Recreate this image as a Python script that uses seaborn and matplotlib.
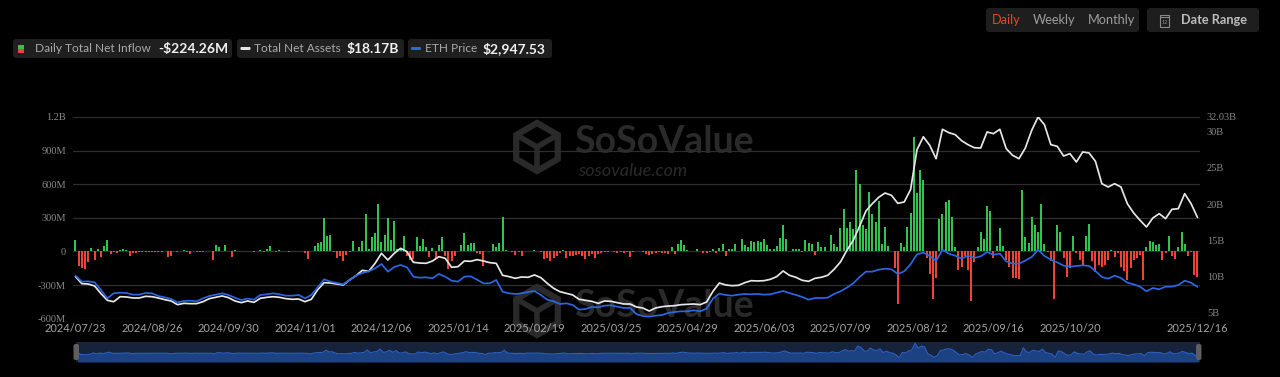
import numpy as np
import pandas as pd
import matplotlib
matplotlib.use("Agg")
import matplotlib.pyplot as plt
import seaborn as sns
from matplotlib.patches import FancyBboxPatch, RegularPolygon, Rectangle

# ---------------- data ----------------
start_date = "2024-07-23"
end_date = "2025-12-16"
market_holidays = ["2024-09-02", "2024-11-28", "2024-12-25", "2025-01-01", "2025-01-09",
                   "2025-01-20", "2025-02-17", "2025-04-18", "2025-05-26", "2025-06-19",
                   "2025-07-04", "2025-09-01", "2025-11-27"]

# daily total net inflow, million USD (one value per trading day)
daily_net_inflow_musd = [
    104, -133, -148, -157, -98, 30, -74, 24, -53, 47,
    98, -21, -2, -15, 9, 21, 11, -38, -15, -12,
    -6, -1, -1, -1, -3, -6, -1, -1, 5, -48,
    -37, 1, -6, 0, 11, -1, -20, 5, -9, -5,
    -5, 3, 0, -79, 62, 38, 0, 56, 1, -48,
    14, 8, 0, 0, 2, 0, -9, 0, 11, -5,
    24, 48, 0, -9, 11, 0, 2, -9, 2, 8,
    4, 7, -11, -63, 1, 52, 80, 86, 295, 136,
    147, -3, -60, -39, -81, -30, -9, 91, 3, 40,
    90, 332, 24, 133, 168, 428, 84, 145, 299, 98,
    272, 24, 30, 139, -38, -74, -68, 127, 50, 115,
    44, -53, 33, -65, 56, 127, -44, -157, -89, -44,
    0, 59, 163, 59, 80, 74, -15, -21, -133, 0,
    2, 65, 44, 80, 305, 15, 0, -5, -30, -5,
    -38, 0, 3, 5, 15, 0, -5, -68, -59, -89,
    -59, -36, -15, 15, -59, -44, -38, -33, -21, -38,
    -68, -38, -24, -59, -21, -15, -3, -6, 0, -9,
    -15, -3, -15, -3, -53, -5, 3, 2, -5, -24,
    -30, -24, -12, -9, -12, -12, -24, 38, -24, 65,
    104, 59, 15, 3, 0, 21, 0, -12, -12, -9,
    18, -12, 30, 65, -36, 21, 24, 65, 0, 110,
    59, 41, 89, 83, 89, 83, 107, 59, 21, 24,
    47, 124, 237, 112, 3, 21, 18, 18, -9, 101,
    77, 65, -30, 83, 36, 38, 5, 148, 65, 44,
    213, 379, 207, 260, 198, 726, 602, 237, 201, 533,
    334, 266, 453, 65, 222, 53, 5, -152, -465, 74,
    36, 222, 340, 1020, 523, 729, 640, -59, -197, -422,
    -240, 287, 337, 443, 455, 307, 39, -164, -135, -38,
    -167, -446, -96, 44, 171, 113, 405, 363, -61, 47,
    213, 47, -76, -140, -237, -237, -248, 547, 127, 80,
    307, 233, 176, 421, 69, -8, -89, -428, 236, 170,
    -56, -232, -145, 141, -18, -80, -118, 134, 246, -81,
    -184, -118, -136, -118, -74, 12, -46, -10, -142, -178,
    -252, -148, -74, -59, -30, -252, 44, 95, 83, 59,
    71, -74, -15, 139, -36, -68, 36, 178, 65, -36,
    -5, -213, -224.26,
]

line_step = 2  # the two lines are read every 2nd trading day
# total net assets, billion USD
net_assets_busd = [
    9.98, 9.01, 8.96, 8.69, 7.63, 6.71, 6.52, 7.21, 7.17, 7.03,
    7.03, 7.26, 7.21, 7.03, 6.80, 6.62, 6.11, 6.29, 6.25, 6.25,
    6.52, 6.94, 7.12, 7.31, 7.08, 6.62, 6.39, 6.62, 6.43, 6.99,
    7.12, 7.21, 7.12, 6.94, 6.85, 6.89, 6.52, 6.85, 8.18, 9.15,
    9.10, 8.96, 8.83, 9.52, 10.12, 10.85, 10.71, 11.82, 13.20, 12.28,
    13.20, 13.89, 13.43, 11.96, 11.86, 11.82, 12.14, 12.74, 12.51, 11.27,
    11.36, 12.14, 12.10, 12.33, 12.14, 11.91, 11.82, 10.16, 9.98, 9.75,
    9.93, 9.89, 10.21, 9.84, 9.06, 8.37, 7.90, 7.67, 7.45, 6.85,
    6.71, 6.57, 6.29, 6.62, 6.57, 6.39, 6.20, 6.20, 5.79, 5.65,
    5.23, 5.65, 5.83, 5.92, 5.97, 6.11, 6.16, 6.20, 6.11, 6.48,
    7.95, 9.10, 8.83, 8.73, 8.78, 9.15, 9.42, 9.38, 9.42, 9.61,
    9.98, 10.76, 10.16, 9.89, 9.47, 9.33, 9.75, 9.89, 10.16, 10.99,
    12.00, 13.61, 14.99, 16.93, 19.05, 20.06, 20.94, 21.53, 21.21, 20.10,
    20.29, 22.0, 27.5, 29.3, 28.12, 26.27, 30.33, 29.87, 29.59, 28.76,
    28.21, 27.79, 27.75, 29.96, 29.73, 30.33, 27.66, 26.74, 26.27, 27.75,
    30.19, 32.03, 30.97, 28.21, 27.98, 26.64, 26.97, 25.81, 27.20, 27.06,
    25.91, 22.82, 22.36, 22.82, 22.36, 20.06, 18.77, 17.76, 16.84, 18.08,
    18.68, 17.99, 19.28, 19.37, 21.44, 20.06, 18.17,
]
# ETH price, USD
eth_price_usd = [
    3483, 3197, 3213, 3165, 2800, 2403, 2641, 2673, 2657, 2578,
    2578, 2657, 2641, 2514, 2451, 2371, 2213, 2276, 2292, 2260,
    2403, 2514, 2578, 2641, 2562, 2435, 2324, 2387, 2340, 2562,
    2594, 2641, 2594, 2530, 2530, 2562, 2403, 2562, 2927, 3308,
    3197, 3133, 3070, 3276, 3483, 3609, 3689, 3832, 4038, 3673,
    3895, 3990, 3879, 3435, 3387, 3403, 3356, 3562, 3435, 3245,
    3197, 3435, 3451, 3292, 3117, 3117, 3276, 2721, 2641, 2610,
    2641, 2705, 2752, 2562, 2340, 2260, 2133, 2165, 2086, 1864,
    1895, 1990, 1974, 2054, 2070, 2006, 1943, 1943, 1650, 1560,
    1530, 1578, 1609, 1705, 1752, 1784, 1784, 1832, 1784, 1911,
    2387, 2625, 2562, 2530, 2578, 2610, 2594, 2610, 2578, 2594,
    2673, 2752, 2657, 2562, 2467, 2340, 2419, 2419, 2435, 2610,
    2736, 2911, 3117, 3419, 3673, 3673, 3768, 3816, 3784, 3562,
    3689, 4022, 4498, 4578, 4419, 4181, 4721, 4530, 4435, 4292,
    4435, 4324, 4403, 4609, 4482, 4530, 4165, 4054, 4054, 4197,
    4371, 4721, 4419, 4244, 4117, 3959, 3911, 3943, 3975, 3943,
    3705, 3419, 3340, 3483, 3371, 3149, 3070, 2959, 2736, 2895,
    2832, 2959, 2959, 3038, 3244, 3149, 2947.53,
]

legend_labels = ["Daily Total Net Inflow", "Total Net Assets", "ETH Price"]
legend_values = ["-$224.26M", "$18.17B", "$2,947.53"]
left_ticks = [-600, -300, 0, 300, 600, 900, 1200]
left_tick_labels = ["-600M", "-300M", "0", "300M", "600M", "900M", "1.2B"]
right_ticks = [5, 10, 15, 20, 25, 30, 32.03]
right_tick_labels = ["5B", "10B", "15B", "20B", "25B", "30B", "32.03B"]
period_buttons = ["Daily", "Weekly", "Monthly"]
date_range_label = "Date Range"
watermark_name = "SoSoValue"
watermark_site = "sosovalue.com"

# ---------------- style ----------------
BG = "#000000"
GRID = "#2e2e2e"
TICK = "#8a8a8a"
XTICK = "#a3a3a3"
GREEN = "#33c14f"
RED = "#ee4437"
WHITE = "#e6e6e6"
BLUE = "#2b67e3"
CHIP = "#1f1f1f"
WM = "#2a2a2a"

sns.set_theme(style="dark", rc={"axes.facecolor": "none", "figure.facecolor": BG,
                                "axes.edgecolor": BG, "grid.color": GRID})
plt.rcParams["font.family"] = ["Lato", "DejaVu Sans"]

dates = pd.bdate_range(start_date, end_date, freq="C", holidays=market_holidays)
n = len(dates)
inflow = np.array(daily_net_inflow_musd, dtype=float)
assert n == len(inflow)
idx = np.arange(n)
line_idx = idx[::line_step]
df_bar = pd.DataFrame({"idx": idx, "inflow": inflow,
                       "sign": np.where(inflow >= 0, "in", "out")})
df_line = pd.DataFrame({"idx": line_idx, "assets": net_assets_busd, "eth": eth_price_usd})

W, H = 1280, 377
fig = plt.figure(figsize=(W / 100, H / 100), dpi=100, facecolor=BG)


def fx(x):
    return x / W


def fy(y):
    return 1 - y / H


# background layer (watermarks)
bg = fig.add_axes([0, 0, 1, 1], zorder=-5)
bg.set_xlim(0, W)
bg.set_ylim(H, 0)
bg.axis("off")
for k, dy in enumerate((0, 164)):
    hexa = RegularPolygon((537, 147 + dy), numVertices=6, radius=24, orientation=0,
                          fill=False, ec=WM, lw=4.5)
    bg.add_patch(hexa)
    bg.plot([537, 537], [147 + dy, 171 + dy], color=WM, lw=4)
    bg.plot([537, 516.5], [147 + dy, 135 + dy], color=WM, lw=4)
    bg.plot([537, 557.5], [147 + dy, 135 + dy], color=WM, lw=4)
    bg.text(574, 153 + dy, watermark_name, fontsize=27, fontweight="bold", color=WM,
            ha="left", va="baseline")
    if k == 0:
        bg.text(578, 176 + dy, watermark_site, fontsize=13, style="italic", color=WM,
                ha="left", va="baseline")

# main plot
L, R, T, B = 73, 1200, 117, 318.7
ax = fig.add_axes([fx(L), fy(B), (R - L) / W, (B - T) / H])
ax.set_facecolor("none")
sns.barplot(data=df_bar, x="idx", y="inflow", hue="sign", hue_order=["in", "out"],
            palette={"in": GREEN, "out": RED}, native_scale=True, dodge=False,
            width=0.62, legend=False, errorbar=None, saturation=1, linewidth=0, ax=ax)
ax.set_xlim(-0.78, 352.8)
ax.set_ylim(-600, 1200)
ax.set_yticks(left_ticks, left_tick_labels)
tick_pos = list(range(0, n - 24, 24)) + [n - 1]
ax.set_xticks(tick_pos, [dates[i].strftime("%Y/%m/%d") for i in tick_pos])
ax.tick_params(axis="y", length=0, pad=5, labelsize=7.5, labelcolor=TICK)
ax.tick_params(axis="x", length=0, pad=3, labelsize=8, labelcolor=XTICK)
for t in ax.get_yticklabels():
    t.set_fontfamily("Liberation Serif")
ax.yaxis.grid(True, color=GRID, linewidth=0.9)
ax.xaxis.grid(False)
ax.set_axisbelow(True)
ax.set_xlabel("")
ax.set_ylabel("")
for s in ax.spines.values():
    s.set_visible(False)

ax2 = ax.twinx()
sns.lineplot(data=df_line, x="idx", y="assets", ax=ax2, color=WHITE, linewidth=1.25)
ax2.set_ylim(4.17, 32.03)
ax2.set_yticks(right_ticks, right_tick_labels)
ax2.tick_params(axis="y", length=0, pad=5, labelsize=7.5, labelcolor=TICK)
for t in ax2.get_yticklabels():
    t.set_fontfamily("Liberation Serif")
ax2.grid(False)
ax2.set_ylabel("")
for s in ax2.spines.values():
    s.set_visible(False)

ax3 = ax.twinx()
sns.lineplot(data=df_line, x="idx", y="eth", ax=ax3, color=BLUE, linewidth=1.25)
ax3.set_ylim(1433, 11038)
ax3.axis("off")
ax.set_xlim(-0.78, 352.8)

# navigator
nav = fig.add_axes([fx(76), fy(362), (1200 - 76) / W, 20 / H])
nav.set_facecolor("#17233b")
nav.fill_between(idx, inflow, -900, color="#1d4284", linewidth=0)
sns.lineplot(x=idx, y=inflow, ax=nav, color="#2c5fc0", linewidth=0.8)
nav.set_xlim(-0.5, n - 0.5)
nav.set_ylim(-900, 1150)
nav.set_xticks([])
nav.set_yticks([])
nav.set_xlabel("")
nav.set_ylabel("")
for s in nav.spines.values():
    s.set_visible(False)

# foreground decorations
fg = fig.add_axes([0, 0, 1, 1], zorder=10)
fg.set_xlim(0, W)
fg.set_ylim(H, 0)
fg.axis("off")


def box(x0, x1, y0, y1, color, r=3):
    fg.add_patch(FancyBboxPatch((x0, y0), x1 - x0, y1 - y0,
                                boxstyle=f"round,pad=0,rounding_size={r}",
                                fc=color, ec="none"))


# navigator handles
box(73.5, 79, 344, 360, "#5e5e5e", r=2)
box(1196, 1201.5, 344, 360, "#5e5e5e", r=2)

# legend chips
cy = 48.5
box(13, 232, 39, 58, CHIP)
box(237, 404, 39, 58, CHIP)
box(408, 552, 39, 58, CHIP)
fg.add_patch(Rectangle((18, 44.5), 6, 4, fc=GREEN, ec="none"))
fg.add_patch(Rectangle((18, 48.5), 6, 4, fc=RED, ec="none"))
box(240.5, 250.5, 47, 50, WHITE, r=1)
box(411, 421, 47, 50, BLUE, r=1)
lab_kw = dict(fontsize=8.6, color="#a9a9a9", va="center", ha="left")
val_kw = dict(fontsize=10, color="#f0f0f0", va="center", ha="left", fontweight="bold")
fg.text(35, cy, legend_labels[0], **lab_kw)
fg.text(158, cy, legend_values[0], **val_kw)
fg.text(254, cy, legend_labels[1], **lab_kw)
fg.text(347, cy, legend_values[1], **val_kw)
fg.text(425, cy, legend_labels[2], **lab_kw)
fg.text(483, cy, legend_values[2], **val_kw)

# period buttons
by = 20.5
box(986, 1139, 8, 32, "#1e1e1e")
box(1147, 1259, 8, 32, "#1e1e1e")
btn_x = [992, 1033, 1088]
btn_c = ["#e5432f", "#9c9c9c", "#9c9c9c"]
for x, lab, c in zip(btn_x, period_buttons, btn_c):
    fg.text(x, by, lab, fontsize=9.2, color=c, va="center", ha="left")
fg.add_patch(Rectangle((1159.5, 14.5), 9.5, 12, fill=False, ec="#8a8a8a", lw=0.8))
fg.plot([1159.5, 1169], [17, 17], color="#8a8a8a", lw=0.8)
fg.text(1164.3, 22, "12", fontsize=4, color="#8a8a8a", ha="center", va="center")
fg.text(1181, by, date_range_label, fontsize=9.2, color="#bdbdbd", va="center",
        ha="left", fontweight="bold")

fig.savefig("out.png", dpi=100, facecolor=BG)
